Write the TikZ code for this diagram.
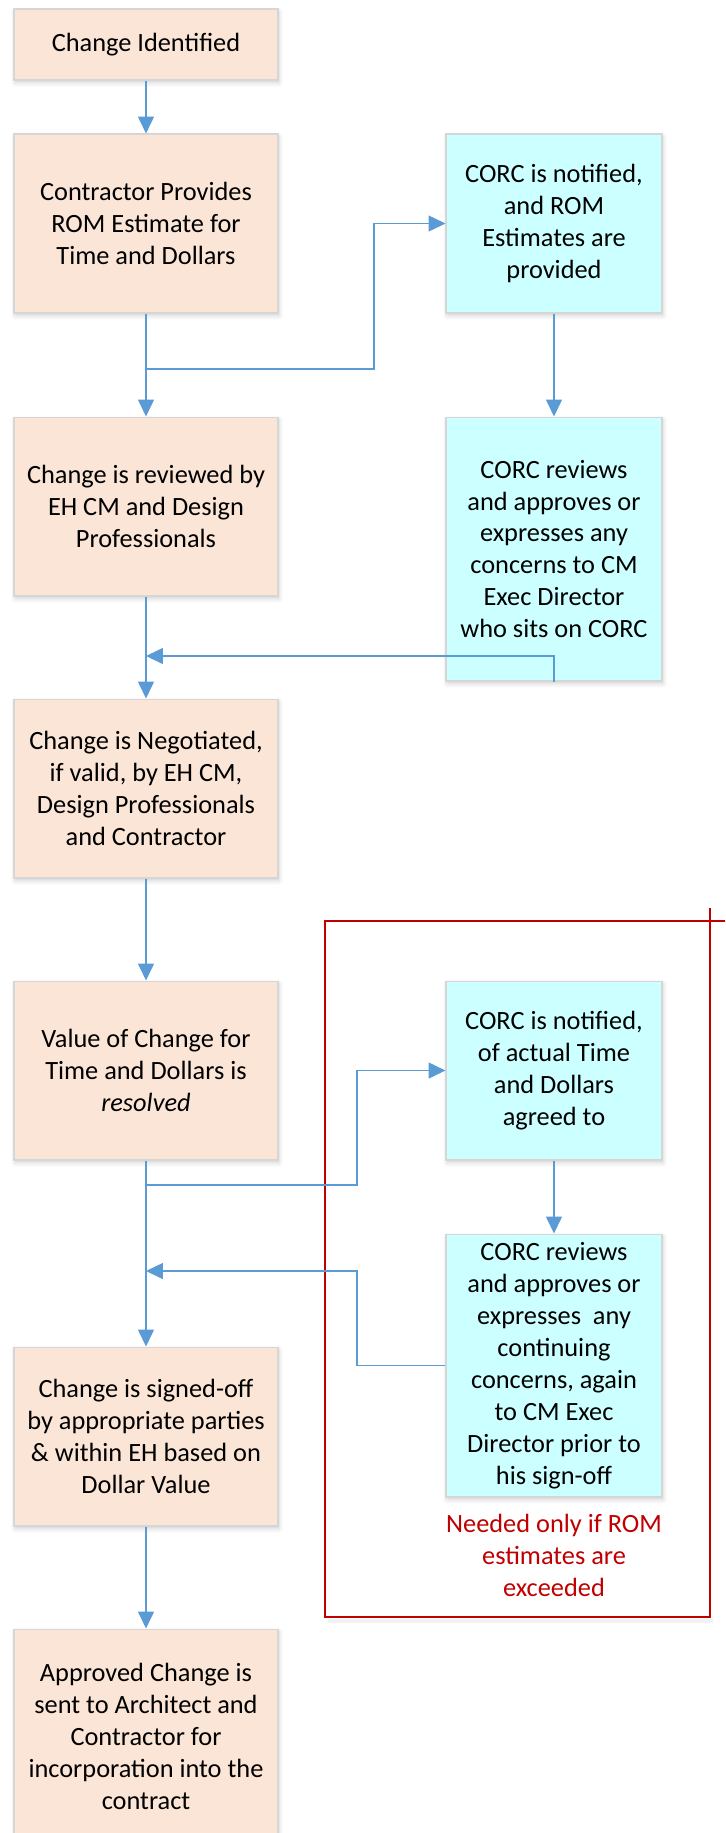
\documentclass[tikz,border=0pt]{standalone}
\usepackage{fontspec}
\setmainfont{Carlito}
\usetikzlibrary{arrows.meta,shadows.blur}

\definecolor{peach}{HTML}{FBE5D6}
\definecolor{corc}{HTML}{CCFFFF}
\definecolor{edge}{HTML}{D6D6D6}
\definecolor{flow}{HTML}{5B9BD5}
\definecolor{darkred}{HTML}{C00000}

\tikzset{
  box/.style={draw=edge,line width=0.6pt,align=center,inner sep=0pt,
    font=\fontsize{15}{18.2}\selectfont,
    blur shadow={shadow xshift=0.6pt,shadow yshift=-1.6pt,shadow blur radius=2.5pt,shadow opacity=18}},
  stepbox/.style={box,fill=peach,minimum width=5.28cm,minimum height=3.58cm},
  corcbox/.style={box,fill=corc,minimum width=4.32cm,minimum height=3.58cm},
  flowline/.style={draw=flow,line width=0.9pt},
  flowarrow/.style={flowline,-{Triangle[length=0.34cm,width=0.32cm]}},
  redframe/.style={draw=darkred,line width=1.2pt},
}

\begin{document}
\begin{tikzpicture}[x=0.02cm,y=-0.02cm]
  \useasboundingbox (0,0) rectangle (725,1833);

% optional CORC loop frame
  \fill[black,opacity=0.05] (328,1619) rectangle (713,1623);
  \draw[redframe] (725,921) -- (325,921) -- (325,1617) -- (710,1617) -- (710,908);
  \node[text=darkred,align=center,font=\fontsize{15}{18.2}\selectfont] (note) at (554,1555)
    {Needed only if ROM\\estimates are\\exceeded};

% main steps
  \node[stepbox,minimum height=1.42cm] (ident) at (146,44.5) {Change Identified};
  \node[stepbox] (rom)    at (146,223.5)  {Contractor Provides\\ROM Estimate for\\Time and Dollars};
  \node[stepbox] (review) at (146,506.5)  {Change is reviewed by\\EH CM and Design\\Professionals};
  \node[stepbox] (nego)   at (146,788.5)  {Change is Negotiated,\\if valid, by EH CM,\\Design Professionals\\and Contractor};
  \node[stepbox] (value)  at (146,1070.5) {Value of Change for\\Time and Dollars is\\\textit{resolved}};
  \node[stepbox] (sign)   at (146,1436.5) {Change is signed-off\\by appropriate parties\\\& within EH based on\\Dollar Value};
  \node[stepbox,minimum height=4.28cm] (approved) at (146,1736)
    {Approved Change is\\sent to Architect and\\Contractor for\\incorporation into the\\contract};

% CORC side
  \node[corcbox] (notify)  at (554,223.5) {CORC is notified,\\and ROM\\Estimates are\\provided};
  \node[corcbox,minimum height=5.28cm] (corcrev) at (554,549)
    {CORC reviews\\and approves or\\expresses any\\concerns to CM\\Exec Director\\who sits on CORC};
  \node[corcbox] (actual)  at (554,1070.5) {CORC is notified,\\of actual Time\\and Dollars\\agreed to};
  \node[corcbox,minimum height=5.26cm] (corcagain) at (554,1365.5)
    {CORC reviews\\and approves or\\expresses\ \ any\\continuing\\concerns, again\\to CM Exec\\Director prior to\\his sign-off};

% branch and merge points
  \coordinate (split1) at (146,369);
  \coordinate (bend1)  at (374,369);
  \coordinate (join1)  at (146,656);
  \coordinate (split2) at (146,1185);
  \coordinate (bend2)  at (357,1185);
  \coordinate (bend3)  at (357,1271);
  \coordinate (join2)  at (146,1271);

% connectors
  \draw[flowarrow] (ident) -- (rom);
  \draw[flowarrow] (rom) -- (review);
  \draw[flowarrow] (split1) -- (bend1) |- (notify.west);
  \draw[flowarrow] (notify) -- (corcrev);
  \draw[flowarrow] (corcrev.south) |- (join1);
  \draw[flowarrow] (review) -- (nego);
  \draw[flowarrow] (nego) -- (value);
  \draw[flowarrow] (value) -- (sign);
  \draw[flowarrow] (split2) -- (bend2) |- (actual.west);
  \draw[flowarrow] (actual) -- (corcagain);
  \draw[flowarrow] (corcagain.west) -| (bend3) -- (join2);
  \draw[flowarrow] (sign) -- (approved);
\end{tikzpicture}
\end{document}
